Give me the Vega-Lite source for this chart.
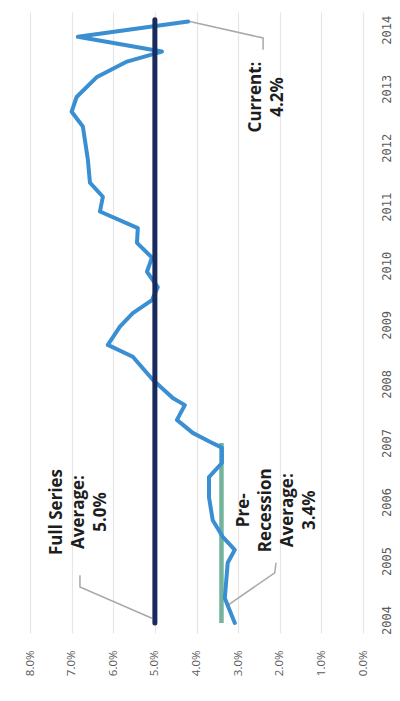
{
  "$schema": "https://vega.github.io/schema/vega-lite/v6.json",
  "width": 333,
  "height": 621,
  "autosize": {"type": "none"},
  "padding": {"left": 30, "top": 12, "right": 37, "bottom": 68},
  "background": "white",
  "config": {
    "view": {"stroke": null},
    "font": "Open Sans"
  },
  "datasets": {
    "series": [
      {"t": 2003.95, "v": 3.08},
      {"t": 2004.37, "v": 3.32},
      {"t": 2004.97, "v": 3.25},
      {"t": 2005.19, "v": 3.08},
      {"t": 2005.41, "v": 3.37},
      {"t": 2005.69, "v": 3.61},
      {"t": 2006.08, "v": 3.70},
      {"t": 2006.42, "v": 3.70},
      {"t": 2006.66, "v": 3.39},
      {"t": 2006.92, "v": 3.39},
      {"t": 2007.02, "v": 3.68},
      {"t": 2007.17, "v": 4.09},
      {"t": 2007.39, "v": 4.47},
      {"t": 2007.64, "v": 4.28},
      {"t": 2007.76, "v": 4.57},
      {"t": 2008.07, "v": 5.05},
      {"t": 2008.46, "v": 5.53},
      {"t": 2008.66, "v": 6.13},
      {"t": 2008.97, "v": 5.84},
      {"t": 2009.20, "v": 5.53},
      {"t": 2009.42, "v": 5.07},
      {"t": 2009.64, "v": 4.93},
      {"t": 2009.90, "v": 5.19},
      {"t": 2010.14, "v": 5.07},
      {"t": 2010.39, "v": 5.43},
      {"t": 2010.64, "v": 5.41},
      {"t": 2010.92, "v": 6.32},
      {"t": 2011.17, "v": 6.25},
      {"t": 2011.41, "v": 6.56},
      {"t": 2011.80, "v": 6.61},
      {"t": 2012.36, "v": 6.73},
      {"t": 2012.61, "v": 7.00},
      {"t": 2012.86, "v": 6.88},
      {"t": 2013.20, "v": 6.39},
      {"t": 2013.46, "v": 5.67},
      {"t": 2013.63, "v": 4.83},
      {"t": 2013.88, "v": 6.85},
      {"t": 2014.14, "v": 4.20}
    ],
    "averages": [
      {"name": "Pre-Recession", "v": 3.4, "t0": 2003.95, "t1": 2007.0},
      {"name": "Full Series", "v": 5.0, "t0": 2003.95, "t1": 2014.17}
    ],
    "leaders": [
      {"note": "full", "i": 0, "t": 2004.76, "v": 6.80},
      {"note": "full", "i": 1, "t": 2004.56, "v": 6.80},
      {"note": "full", "i": 2, "t": 2004.03, "v": 5.07},
      {"note": "pre", "i": 0, "t": 2004.97, "v": 2.09},
      {"note": "pre", "i": 1, "t": 2004.80, "v": 2.12},
      {"note": "pre", "i": 2, "t": 2004.24, "v": 3.27},
      {"note": "current", "i": 0, "t": 2014.14, "v": 4.16},
      {"note": "current", "i": 1, "t": 2013.86, "v": 2.40},
      {"note": "current", "i": 2, "t": 2013.66, "v": 2.40}
    ],
    "notes": [
      {"lines": ["Full Series", "Average:", "5.0%"], "t": 2005.83, "v": 7.34},
      {"lines": ["Pre-", "Recession", "Average:", "3.4%"], "t": 2005.86, "v": 2.86},
      {"lines": ["Current:", "4.2%"], "t": 2012.86, "v": 2.58}
    ]
  },
  "layer": [
    {
      "data": {"name": "leaders"},
      "mark": {"type": "line", "color": "#a9a9a9", "strokeWidth": 1.5},
      "encoding": {
        "x": {
          "field": "v",
          "type": "quantitative",
          "scale": {"domain": [0, 8], "reverse": true, "nice": false},
          "axis": {
            "orient": "bottom",
            "title": null,
            "values": [0, 1, 2, 3, 4, 5, 6, 7, 8],
            "labelExpr": "format(datum.value, '.1f') + '%'",
            "grid": true,
            "gridColor": "#e6e6e6",
            "gridWidth": 1.2,
            "ticks": false,
            "domain": false,
            "labelAngle": -90,
            "labelAlign": "right",
            "labelBaseline": "middle",
            "labelPadding": 17,
            "labelFont": "Open Sans",
            "labelFontSize": 11.5,
            "labelColor": "#5a5a5a"
          }
        },
        "y": {
          "field": "t",
          "type": "quantitative",
          "scale": {"domain": [2003.78, 2014.3], "nice": false, "zero": false},
          "axis": {
            "orient": "right",
            "title": null,
            "values": [2004, 2005, 2006, 2007, 2008, 2009, 2010, 2011, 2012, 2013, 2014],
            "format": "d",
            "grid": false,
            "ticks": false,
            "domain": false,
            "labelAngle": -90,
            "labelAlign": "center",
            "labelBaseline": "top",
            "labelPadding": 18,
            "labelFont": "DejaVu Sans Mono",
            "labelFontSize": 12,
            "labelColor": "#5a5a5a"
          }
        },
        "detail": {"field": "note"},
        "order": {"field": "i"}
      }
    },
    {
      "data": {"name": "averages"},
      "transform": [{"filter": "datum.name === 'Pre-Recession'"}],
      "mark": {"type": "rule", "color": "#74b49c", "strokeWidth": 4.5, "strokeCap": "butt"},
      "encoding": {
        "x": {"field": "v", "type": "quantitative"},
        "y": {"field": "t0", "type": "quantitative"},
        "y2": {"field": "t1"}
      }
    },
    {
      "data": {"name": "series"},
      "mark": {"type": "line", "color": "#3a8fd2", "strokeWidth": 4, "strokeJoin": "round", "strokeCap": "round"},
      "encoding": {
        "x": {"field": "v", "type": "quantitative"},
        "y": {"field": "t", "type": "quantitative"},
        "order": {"field": "t"}
      }
    },
    {
      "data": {"name": "averages"},
      "transform": [{"filter": "datum.name === 'Full Series'"}],
      "mark": {"type": "rule", "color": "#192b5c", "strokeWidth": 5, "strokeCap": "round"},
      "encoding": {
        "x": {"field": "v", "type": "quantitative"},
        "y": {"field": "t0", "type": "quantitative"},
        "y2": {"field": "t1"}
      }
    },
    {
      "data": {"name": "notes"},
      "mark": {
        "type": "text",
        "angle": -90,
        "align": "center",
        "baseline": "middle",
        "font": "Open Sans",
        "fontWeight": "bold",
        "fontSize": 17,
        "lineHeight": 22,
        "color": "#1e1e1e"
      },
      "encoding": {
        "x": {"field": "v", "type": "quantitative"},
        "y": {"field": "t", "type": "quantitative"},
        "text": {"field": "lines"}
      }
    }
  ]
}
